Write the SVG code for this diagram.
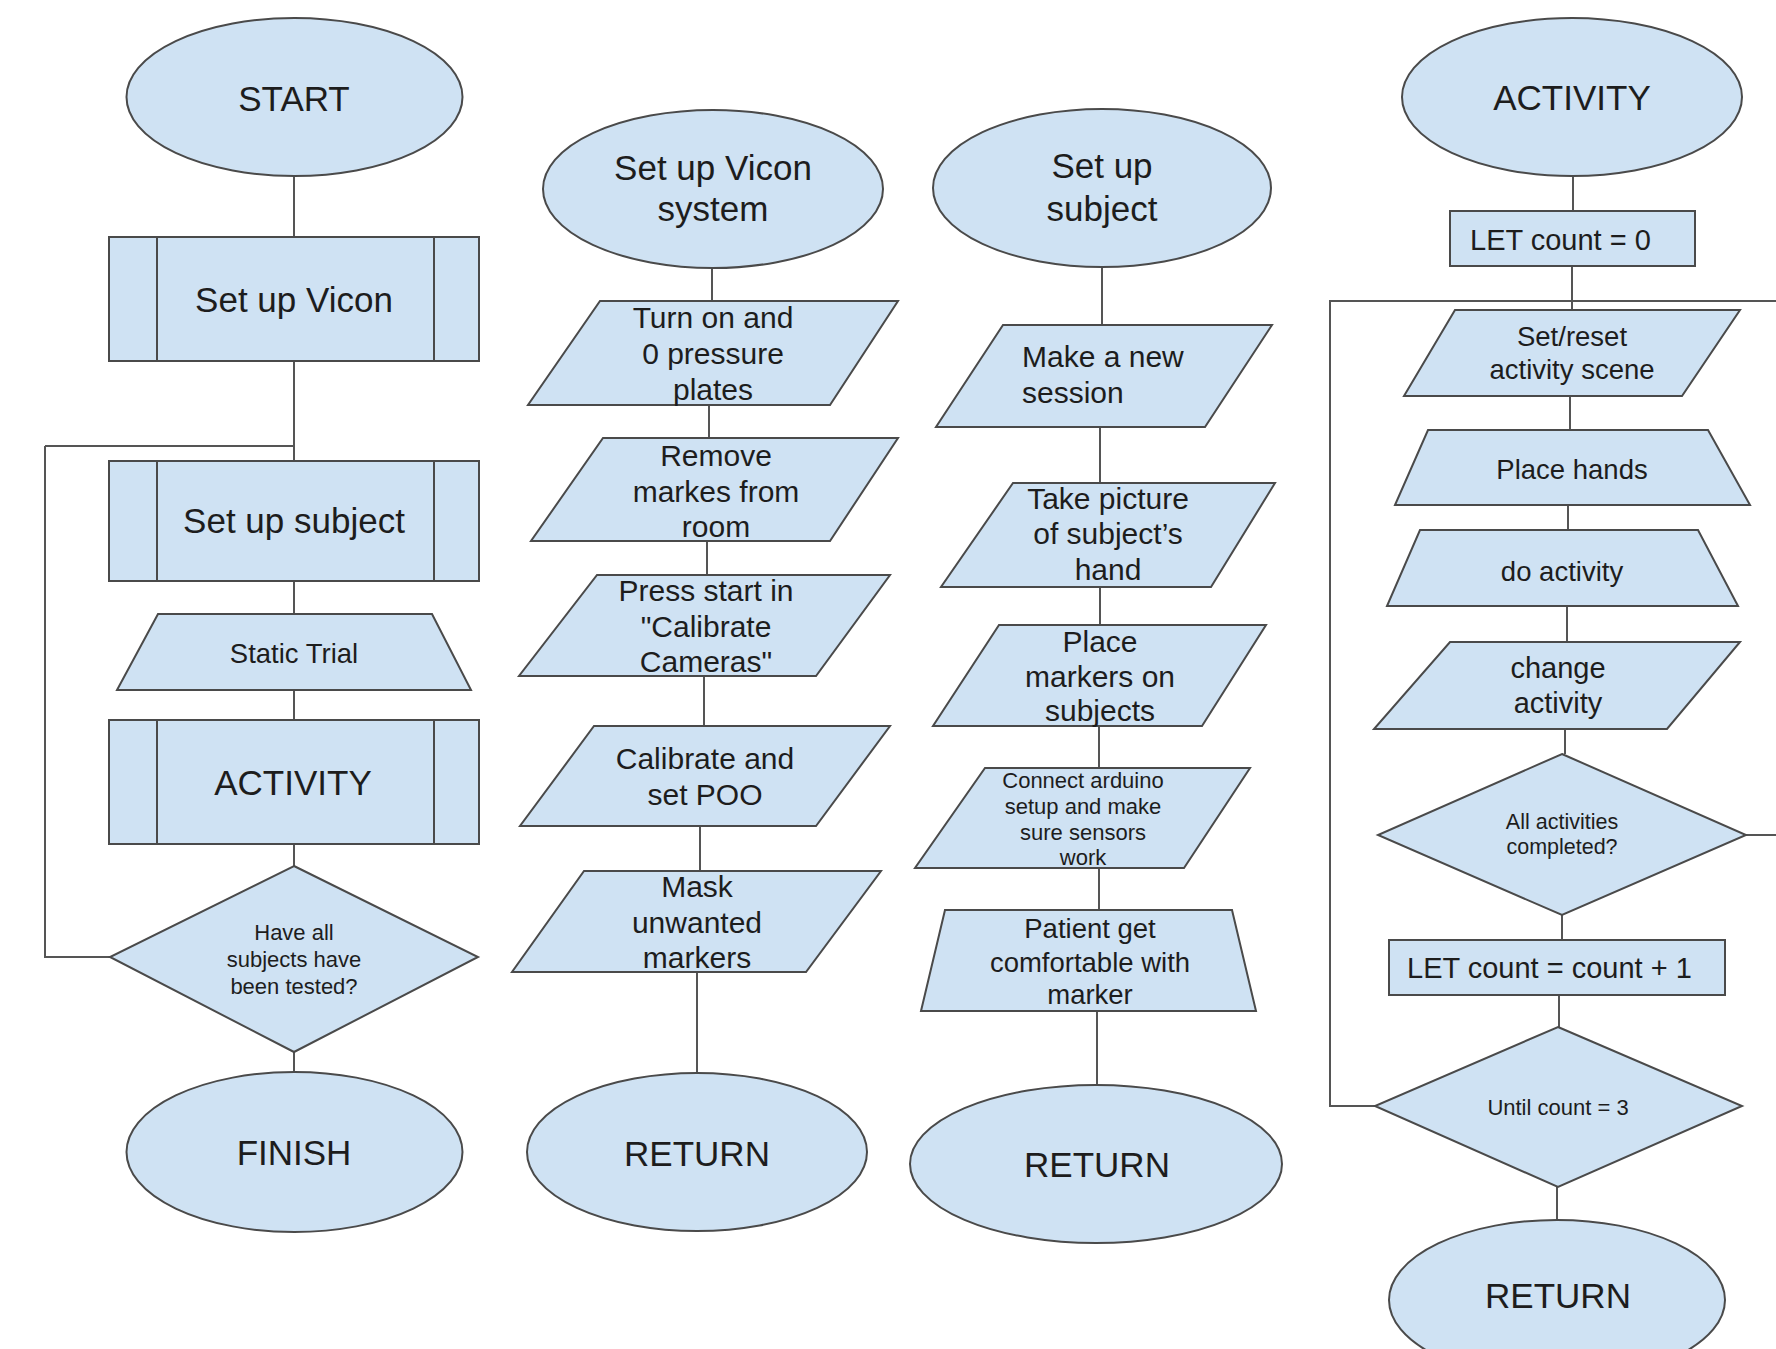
<svg xmlns="http://www.w3.org/2000/svg" width="1776" height="1349" viewBox="0 0 1776 1349">
<style>
.s{fill:#cfe2f3;stroke:#4a4a4a;stroke-width:2}
.l{fill:none;stroke:#4a4a4a;stroke-width:2}
.c{fill:none;stroke:#555;stroke-width:2}
text{font-family:"Liberation Sans",Arial,sans-serif;fill:#1d1d1d;text-anchor:middle}
.t35{font-size:35px}
.t30{font-size:30px}
.t29{font-size:29px}
.t27{font-size:27.5px}
.t22{font-size:22px}
.st{text-anchor:start}
</style>
<rect width="1776" height="1349" fill="#fff"/>
<g id="connectors">
<path class="c" d="M294 176V237M294 361V461M45 446H294M294 581V614M294 690V720M294 844V866M45 446V957H110M294 1052V1072"/>
<path class="c" d="M712 268V301M709 405V438M707 541V575M704 676V726M700 826V871M697 972V1073"/>
<path class="c" d="M1102 267V325M1100 427V483M1100 587V625M1099 726V768M1099 868V910M1097 1011V1085"/>
<path class="c" d="M1573 176V211M1572 266V310M1776 301H1330V1106H1375M1570 396V430M1568 505V530M1567 606V642M1565 729V754M1746 835H1776M1562 915V940M1559 995V1027M1557 1187V1220"/>
</g>
<g id="start"><ellipse class="s" cx="294.5" cy="97" rx="168" ry="79"/><text class="t35" x="294" y="111">START</text></g>
<g id="setup-vicon"><rect class="s" x="109" y="237" width="370" height="124"/><path class="l" d="M157 237V361M434 237V361"/><text class="t35" x="294" y="312">Set up Vicon</text></g>
<g id="setup-subject"><rect class="s" x="109" y="461" width="370" height="120"/><path class="l" d="M157 461V581M434 461V581"/><text class="t35" x="294" y="533">Set up subject</text></g>
<g id="static-trial"><polygon class="s" points="158,614 432,614 471,690 117,690"/><text class="t27" x="294" y="663">Static Trial</text></g>
<g id="activity-call"><rect class="s" x="109" y="720" width="370" height="124"/><path class="l" d="M157 720V844M434 720V844"/><text class="t35" x="293" y="795">ACTIVITY</text></g>
<g id="all-tested"><polygon class="s" points="294,866 478,957 294,1052 110,957"/><text class="t22" x="294" y="940">Have all</text><text class="t22" x="294" y="967">subjects have</text><text class="t22" x="294" y="994">been tested?</text></g>
<g id="finish"><ellipse class="s" cx="294.5" cy="1152" rx="168" ry="80"/><text class="t35" x="294" y="1165">FINISH</text></g>

<g id="vicon-system"><ellipse class="s" cx="713" cy="189" rx="170" ry="79"/><text class="t35" x="713" y="180">Set up Vicon</text><text class="t35" x="713" y="221">system</text></g>
<g id="pressure"><polygon class="s" points="600,301 898,301 830,405 528,405"/><text class="t30" x="713" y="328">Turn on and</text><text class="t30" x="713" y="364">0 pressure</text><text class="t30" x="713" y="400">plates</text></g>
<g id="remove-markers"><polygon class="s" points="603,438 898,438 830,541 531,541"/><text class="t30" x="716" y="466">Remove</text><text class="t30" x="716" y="502">markes from</text><text class="t30" x="716" y="537">room</text></g>
<g id="press-start"><polygon class="s" points="597,575 890,575 816,676 519,676"/><text class="t30" x="706" y="601">Press start in</text><text class="t30" x="706" y="637">"Calibrate</text><text class="t30" x="706" y="672">Cameras"</text></g>
<g id="calibrate"><polygon class="s" points="594,726 890,726 816,826 520,826"/><text class="t30" x="705" y="769">Calibrate and</text><text class="t30" x="705" y="805">set POO</text></g>
<g id="mask"><polygon class="s" points="584,871 881,871 806,972 512,972"/><text class="t30" x="697" y="897">Mask</text><text class="t30" x="697" y="933">unwanted</text><text class="t30" x="697" y="968">markers</text></g>
<g id="return-vicon"><ellipse class="s" cx="697" cy="1152" rx="170" ry="79"/><text class="t35" x="697" y="1166">RETURN</text></g>

<g id="subject-start"><ellipse class="s" cx="1102" cy="188" rx="169" ry="79"/><text class="t35" x="1102" y="178">Set up</text><text class="t35" x="1102" y="221">subject</text></g>
<g id="new-session"><polygon class="s" points="1003,325 1272,325 1205,427 936,427"/><text class="t30 st" x="1022" y="367">Make a new</text><text class="t30 st" x="1022" y="403">session</text></g>
<g id="picture"><polygon class="s" points="1013,483 1275,483 1211,587 941,587"/><text class="t30" x="1108" y="509">Take picture</text><text class="t30" x="1108" y="544">of subject’s</text><text class="t30" x="1108" y="580">hand</text></g>
<g id="place-markers"><polygon class="s" points="999,625 1266,625 1202,726 933,726"/><text class="t30" x="1100" y="652">Place</text><text class="t30" x="1100" y="687">markers on</text><text class="t30" x="1100" y="721">subjects</text></g>
<g id="arduino"><polygon class="s" points="985,768 1250,768 1184,868 915,868"/><text class="t22" x="1083" y="788">Connect arduino</text><text class="t22" x="1083" y="814">setup and make</text><text class="t22" x="1083" y="840">sure sensors</text><text class="t22" x="1083" y="865">work</text></g>
<g id="comfortable"><polygon class="s" points="945,910 1232,910 1256,1011 921,1011"/><text class="t27" x="1090" y="938">Patient get</text><text class="t27" x="1090" y="972">comfortable with</text><text class="t27" x="1090" y="1004">marker</text></g>
<g id="return-subject"><ellipse class="s" cx="1096" cy="1164" rx="186" ry="79"/><text class="t35" x="1097" y="1177">RETURN</text></g>

<g id="activity-start"><ellipse class="s" cx="1572" cy="97" rx="170" ry="79"/><text class="t35" x="1572" y="110">ACTIVITY</text></g>
<g id="count-zero"><rect class="s" x="1450" y="211" width="245" height="55"/><text class="t29 st" x="1470" y="250">LET count = 0</text></g>
<g id="reset-scene"><polygon class="s" points="1455,310 1740,310 1682,396 1404,396"/><text class="t27" x="1572" y="346">Set/reset</text><text class="t27" x="1572" y="379">activity scene</text></g>
<g id="place-hands"><polygon class="s" points="1428,430 1708,430 1750,505 1395,505"/><text class="t27" x="1572" y="479">Place hands</text></g>
<g id="do-activity"><polygon class="s" points="1420,530 1698,530 1738,606 1387,606"/><text class="t27" x="1562" y="581">do activity</text></g>
<g id="change-activity"><polygon class="s" points="1450,642 1740,642 1667,729 1374,729"/><text class="t29" x="1558" y="678">change</text><text class="t29" x="1558" y="713">activity</text></g>
<g id="all-done"><polygon class="s" points="1562,754 1746,835 1562,915 1378,835"/><text class="t22" x="1562" y="829" style="font-size:21.5px">All activities</text><text class="t22" x="1562" y="854" style="font-size:21.5px">completed?</text></g>
<g id="count-inc"><rect class="s" x="1389" y="940" width="336" height="55"/><text class="t29 st" x="1407" y="978">LET count = count + 1</text></g>
<g id="until"><polygon class="s" points="1558,1027 1742,1106 1558,1187 1375,1106"/><text class="t22" x="1558" y="1115">Until count = 3</text></g>
<g id="return-activity"><ellipse class="s" cx="1557" cy="1300" rx="168" ry="80"/><text class="t35" x="1558" y="1308">RETURN</text></g>
</svg>
